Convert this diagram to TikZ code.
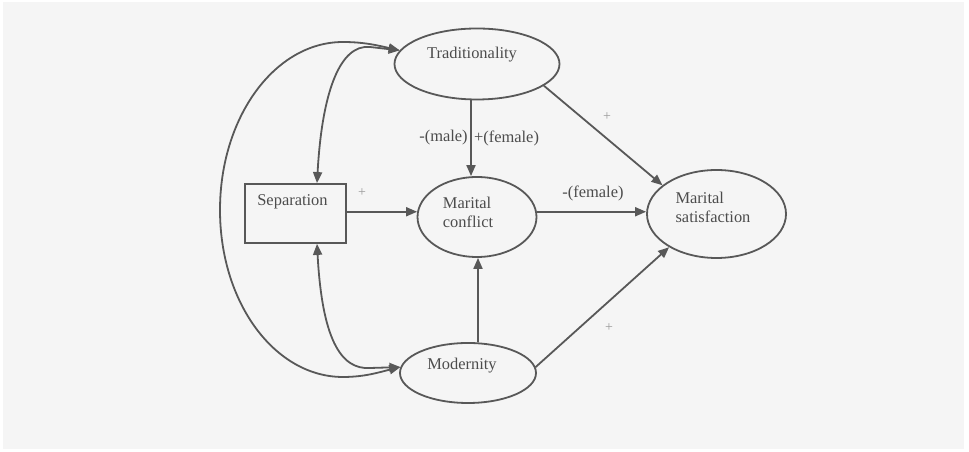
\documentclass[tikz,border=0pt]{standalone}
\usepackage{fontspec}
\setmainfont{Liberation Serif}
\usetikzlibrary{shapes.geometric,arrows.meta,calc}
\definecolor{bg}{HTML}{F5F5F5}
\definecolor{ln}{HTML}{585858}
\definecolor{tx}{HTML}{4C4C4C}
\definecolor{pl}{HTML}{9A9A9A}
\begin{document}
\begin{tikzpicture}[x=1bp,y=1bp,
  ell/.style={ellipse, draw=ln, line width=1.8bp, inner sep=0pt},
  box/.style={rectangle, draw=ln, line width=1.8bp, inner sep=0pt},
  txt/.style={text=tx, font=\fontsize{16.5}{19}\selectfont, inner sep=0pt, align=left},
  pls/.style={text=pl, font=\fontsize{14}{16}\selectfont, inner sep=0pt},
  arr/.style={draw=ln, line width=1.8bp, -{Triangle[length=11bp,width=9bp]}},
  darr/.style={draw=ln, line width=1.8bp, {Triangle[length=11bp,width=9bp]}-{Triangle[length=11bp,width=9bp]}}]
\useasboundingbox (0,0) rectangle (969,452);
\fill[white] (0,0) rectangle (969,452);
\fill[bg] (3,3) rectangle (964,450);

% shapes
\node[ell, minimum width=165bp, minimum height=71bp] (trad) at (477,388) {};
\node[ell, minimum width=119bp, minimum height=80bp] (conflict) at (477,235) {};
\node[ell, minimum width=139bp, minimum height=88bp] (sat) at (716.5,238) {};
\node[box, minimum width=101bp, minimum height=59bp] (sep) at (295.5,238.5) {};
\node[ell, minimum width=136bp, minimum height=60bp] (mod) at (468,79) {};

% texts
\node[txt] (tradT) at (472,397) {Traditionality};
\node[txt] (conflictT) at (468,240) {Marital\\conflict};
\node[txt] (satT) at (713,245) {Marital\\satisfaction};
\node[txt] (sepT) at (292.5,250) {Separation};
\node[txt] (modT) at (462,86) {Modernity};

% straight connectors
\draw[arr] ([xshift=-6bp]trad.south) -- ([xshift=-6bp]conflict.north);
\draw[arr] ([xshift=10bp]mod.north) -- ([xshift=1bp]conflict.south);
\draw[arr] (sep.east |- conflict.175) -- (conflict.175);
\draw[arr] (conflict.5) -- (conflict.5 -| sat.west);
\draw[arr] (trad.-18) -- (sat.152);
\draw[arr] (mod.5) -- (sat.215);

% curved double arrows
\coordinate (sepTop) at ([xshift=21.5bp]sep.north);
\coordinate (sepBot) at ([xshift=21.5bp]sep.south);
\draw[darr] (sepTop) .. controls (322,360) and (340,408) .. (370,405) -- (trad.170);
\draw[darr] (sepBot) .. controls (322,115) and (340,82) .. (370,84) -- (mod.175);
\draw[darr] (trad.170) .. controls (380,406) and (365,410) .. (343,410)
  .. controls (275,410) and (220,335) .. (220,242)
  .. controls (220,149) and (275,75) .. (343,75)
  .. controls (365,75) and (380,80) .. (mod.175);

% labels
\node[txt] (lm) at (443.5,314) {-(male)};
\node[txt] (lf) at (506.5,314) {+(female)};
\node[txt] (lcf) at (593,259) {-(female)};
\node[pls] (p1) at (607,335) {+};
\node[pls] (p2) at (362,259) {+};
\node[pls] (p3) at (609,124) {+};
\end{tikzpicture}
\end{document}
